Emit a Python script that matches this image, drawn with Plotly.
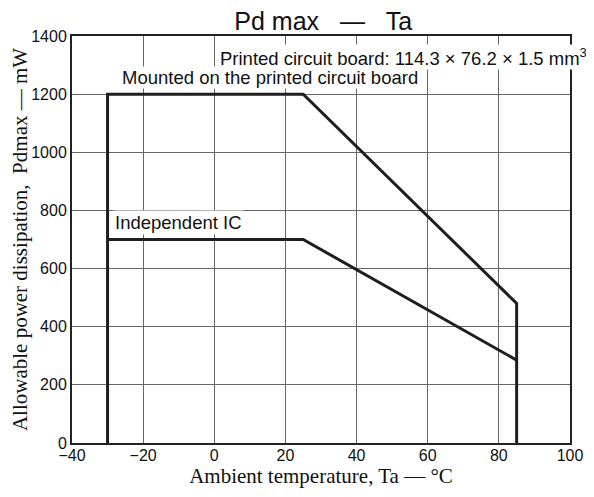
import plotly.graph_objects as go

# Data
mounted_x = [-30, -30, 25, 85, 85]
mounted_y = [0, 1200, 1200, 480, 0]
indep_x = [-30, 25, 85]
indep_y = [700, 700, 285]
x_ticks = [-40, -20, 0, 20, 40, 60, 80, 100]
y_ticks = [0, 200, 400, 600, 800, 1000, 1200, 1400]

line_color = "#1e1e1e"
sans = "Liberation Sans, Arial, sans-serif"
serif = "Liberation Serif, Times New Roman, serif"

fig = go.Figure()
fig.add_trace(go.Scatter(x=mounted_x, y=mounted_y, mode="lines",
                         line=dict(color=line_color, width=3), showlegend=False))
fig.add_trace(go.Scatter(x=indep_x, y=indep_y, mode="lines",
                         line=dict(color=line_color, width=3), showlegend=False))

ann_font = dict(family=sans, size=18.5, color="#111")
fig.add_annotation(x=1.037, y=1328, xref="paper", yref="y",
                   text="Printed circuit board: 114.3 \u00d7 76.2 \u00d7 1.5 mm<sup>3</sup>",
                   showarrow=False, xanchor="right", yanchor="middle",
                   bgcolor="white", borderpad=0, font=ann_font)
fig.add_annotation(x=-28.5, y=760, xref="x", yref="y", text="Independent IC",
                   showarrow=False, xanchor="left", yanchor="middle",
                   bgcolor="white", borderpad=1, font=ann_font)
fig.add_annotation(x=-26.3, y=1256, xref="x", yref="y",
                   text="Mounted on the printed circuit board",
                   showarrow=False, xanchor="left", yanchor="middle",
                   bgcolor="white", borderpad=0, font=ann_font)

fig.update_layout(
    template="none",
    width=586, height=489,
    margin=dict(l=64, r=24, t=28, b=54, autoexpand=False),
    paper_bgcolor="white", plot_bgcolor="white",
    title=dict(text="Pd max\u00a0\u00a0\u00a0\u2014\u00a0\u00a0\u00a0Ta", x=0.538, xanchor="center",
               y=1 - 13 / 489, yanchor="middle",
               font=dict(family=sans, size=25, color="#111")),
    xaxis=dict(range=[-40, 100], tickvals=x_ticks,
               ticktext=[("\u2212" + str(-v)) if v < 0 else str(v) for v in x_ticks],
               showgrid=True, gridcolor="#666", gridwidth=1.2,
               showline=True, linecolor="#222", linewidth=2, mirror=True,
               ticks="", zeroline=False, automargin=False, layer="below traces",
               ticklabelstandoff=-3,
               tickfont=dict(family=sans, size=16, color="#111"),
               title=dict(text="Ambient temperature, Ta \u2014 \u00b0C",
                          font=dict(family=serif, size=21, color="#111"),
                          standoff=2)),
    yaxis=dict(range=[0, 1400], tickvals=y_ticks,
               showgrid=True, gridcolor="#666", gridwidth=1.2,
               showline=True, linecolor="#222", linewidth=2, mirror=True,
               ticks="", zeroline=False, automargin=False, layer="below traces",
               tickfont=dict(family=sans, size=16, color="#111"),
               title=dict(text="Allowable power dissipation,  Pdmax \u2014 mW",
                          font=dict(family=serif, size=21, color="#111"),
                          standoff=8)),
)

fig.write_html("out.html")
